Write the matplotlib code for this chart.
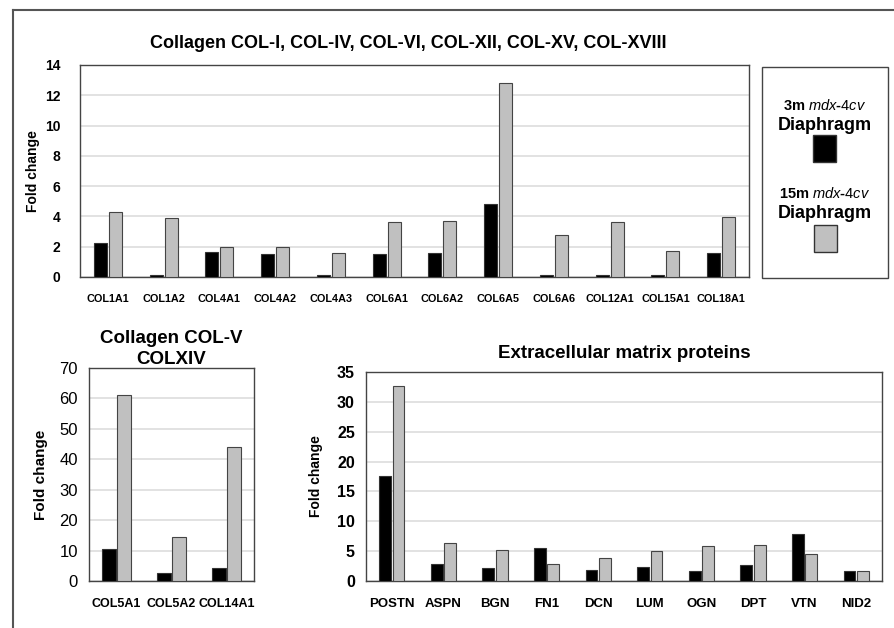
import numpy as np
import matplotlib
matplotlib.use("Agg")
import matplotlib.pyplot as plt
from matplotlib.patches import Rectangle
from matplotlib.lines import Line2D

plt.rcParams['font.family'] = ['Liberation Sans', 'DejaVu Sans']
plt.rcParams['mathtext.fontset'] = 'custom'
plt.rcParams['mathtext.it'] = 'Liberation Sans:italic'
plt.rcParams['mathtext.rm'] = 'Liberation Sans'

# data
top_genes = ['COL1A1', 'COL1A2', 'COL4A1', 'COL4A2', 'COL4A3', 'COL6A1',
             'COL6A2', 'COL6A5', 'COL6A6', 'COL12A1', 'COL15A1', 'COL18A1']
top_3m = [2.25, 0.1, 1.65, 1.55, 0.1, 1.5, 1.58, 4.8, 0.1, 0.1, 0.1, 1.58]
top_15m = [4.3, 3.9, 2.0, 1.97, 1.57, 3.62, 3.68, 12.8, 2.75, 3.6, 1.75, 3.95]

col5_genes = ['COL5A1', 'COL5A2', 'COL14A1']
col5_3m = [10.5, 2.7, 4.3]
col5_15m = [61.2, 14.3, 44.0]

ecm_genes = ['POSTN', 'ASPN', 'BGN', 'FN1', 'DCN', 'LUM', 'OGN', 'DPT', 'VTN', 'NID2']
ecm_3m = [17.6, 2.8, 2.1, 5.5, 1.8, 2.4, 1.6, 2.6, 7.8, 1.6]
ecm_15m = [32.6, 6.3, 5.2, 2.9, 3.8, 5.0, 5.8, 6.0, 4.5, 1.7]

W, H = 894, 628
fig = plt.figure(figsize=(W / 100, H / 100), dpi=100)


def px_axes(x0, y0, x1, y1):
    # pixel box (top-left origin) -> figure coords
    return fig.add_axes([x0 / W, 1 - y1 / H, (x1 - x0) / W, (y1 - y0) / H])


def bars(ax, genes, a, b, width, off):
    x = np.arange(len(genes))
    ax.bar(x - off, a, width, color='black', edgecolor='#333333', lw=0.8, zorder=3)
    ax.bar(x + off, b, width, color='#c0c0c0', edgecolor='#444444', lw=0.8, zorder=3)
    ax.set_xlim(-0.5, len(genes) - 0.5)
    ax.set_xticks(x)
    ax.yaxis.grid(True, color='#dddddd', lw=1.2, zorder=0)
    ax.tick_params(length=0)
    for s in ax.spines.values():
        s.set_color('#444444')
        s.set_linewidth(1.0)
    return x


# outer frame
fig.add_artist(Line2D([13 / W, 1], [1 - 10 / H, 1 - 10 / H], color='#555555', lw=1.5))
fig.add_artist(Line2D([13 / W, 13 / W], [0, 1 - 10 / H], color='#555555', lw=1.5))

# top panel
ax1 = px_axes(80, 65, 749, 277)
bars(ax1, top_genes, top_3m, top_15m, 0.23, 0.135)
ax1.set_ylim(0, 14)
ax1.set_yticks(range(0, 15, 2))
ax1.set_xticklabels(top_genes, fontweight='bold', fontsize=7.8)
ax1.set_yticklabels(range(0, 15, 2), fontweight='bold', fontsize=10)
ax1.tick_params(axis='x', pad=12)
ax1.tick_params(axis='y', pad=14)
ax1.set_ylabel('Fold change', fontweight='bold', fontsize=10, labelpad=4)
ax1.set_title('Collagen COL-I, COL-IV, COL-VI, COL-XII, COL-XV, COL-XVIII',
              fontweight='bold', fontsize=13, pad=12, x=0.49)

# legend box
fig.add_artist(Rectangle((762 / W, 1 - 278 / H), 126 / W, 211 / H, fill=False,
                         ec='#444444', lw=1.0, transform=fig.transFigure))
fig.text(825 / W, 1 - 105 / H, '3m $\\it{mdx}$-$\\it{4cv}$', ha='center', va='center',
         fontweight='bold', fontsize=10.5)
fig.text(825 / W, 1 - 125 / H, 'Diaphragm', ha='center', va='center',
         fontweight='bold', fontsize=13)
fig.add_artist(Rectangle((813 / W, 1 - 162 / H), 23 / W, 27 / H, fc='black',
                         ec='#333333', lw=1, transform=fig.transFigure))
fig.text(825 / W, 1 - 193 / H, '15m $\\it{mdx}$-$\\it{4cv}$', ha='center', va='center',
         fontweight='bold', fontsize=10.5)
fig.text(825 / W, 1 - 213 / H, 'Diaphragm', ha='center', va='center',
         fontweight='bold', fontsize=13)
fig.add_artist(Rectangle((814 / W, 1 - 252 / H), 23 / W, 27 / H, fc='#c0c0c0',
                         ec='#333333', lw=1, transform=fig.transFigure))

# bottom left
ax2 = px_axes(89, 368, 254, 581)
bars(ax2, col5_genes, col5_3m, col5_15m, 0.25, 0.14)
ax2.set_ylim(0, 70)
ax2.set_yticks(range(0, 71, 10))
ax2.set_xticklabels(col5_genes, fontweight='bold', fontsize=9)
ax2.tick_params(axis='y', labelsize=12, pad=8)
ax2.tick_params(axis='x', pad=12)
ax2.set_ylabel('Fold change', fontweight='bold', fontsize=11, labelpad=8)
ax2.set_title('Collagen COL-V\nCOLXIV', fontweight='bold', fontsize=13.5,
              pad=3, linespacing=1.3)

# bottom right
ax3 = px_axes(366, 372, 882, 581)
bars(ax3, ecm_genes, ecm_3m, ecm_15m, 0.23, 0.13)
ax3.set_ylim(0, 35)
ax3.set_yticks(range(0, 36, 5))
ax3.set_xticklabels(ecm_genes, fontweight='bold', fontsize=9.5)
ax3.set_yticklabels(range(0, 36, 5), fontweight='bold', fontsize=11.5)
ax3.tick_params(axis='x', pad=12)
ax3.tick_params(axis='y', pad=8)
ax3.set_ylabel('Fold change', fontweight='bold', fontsize=10, labelpad=10)
ax3.set_title('Extracellular matrix proteins', fontweight='bold', fontsize=13.5, pad=10)

fig.savefig('out.png', dpi=100)
